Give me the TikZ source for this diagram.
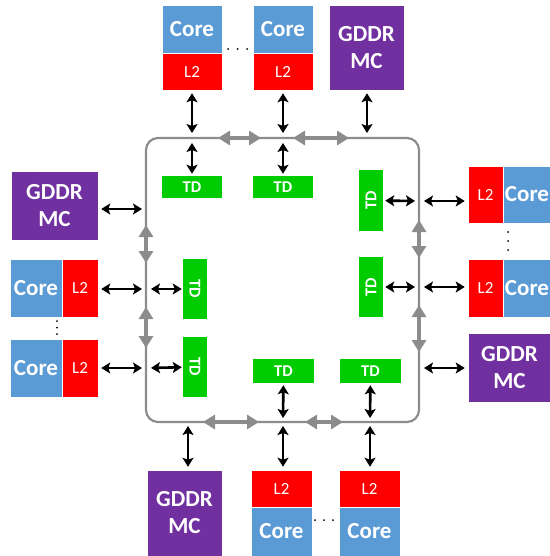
\documentclass[tikz,border=0pt]{standalone}
\usepackage{fontspec}
\setmainfont{Carlito}
\usetikzlibrary{arrows.meta}
\definecolor{coreblue}{HTML}{5B9BD5}
\definecolor{l2red}{HTML}{FF0000}
\definecolor{gddrpurple}{HTML}{7030A0}
\definecolor{tdgreen}{HTML}{00CC00}
\definecolor{ringgray}{HTML}{8C8C8C}
\tikzset{
  blk/.style={draw=white, line width=0.5pt, inner sep=0pt, text=white},
  corebox/.style={blk, fill=coreblue, font=\bfseries\fontsize{23}{26}\selectfont},
  l2box/.style={blk, fill=l2red, font=\fontsize{17}{20}\selectfont},
  gddrbox/.style={blk, fill=gddrpurple, align=center, font=\bfseries\fontsize{23}{27}\selectfont},
  tdbox/.style={blk, draw=none, fill=tdgreen, font=\bfseries\fontsize{16.5}{19}\selectfont},
  barrow/.style={line width=2.6pt, {Stealth[length=9pt,width=11pt,inset=2pt]}-{Stealth[length=9pt,width=11pt,inset=2pt]}},
  garrow/.style={line width=3.8pt, ringgray, {Triangle[length=12pt,width=14pt]}-{Triangle[length=12pt,width=14pt]}},
  ring/.style={draw=ringgray, line width=2.2pt, rounded corners=12pt},
  dotf/.style={fill=black}
}
\begin{document}
\begin{tikzpicture}[x=1pt,y=-1pt]
\useasboundingbox (0,0) rectangle (549,556);
% ring
\draw[ring] (146,138) rectangle (419,422);
% ---- top ----
\node[corebox, minimum width=60, minimum height=48] (cT1) at (192,29) {Core};
\node[l2box, minimum width=60, minimum height=37] (lT1) at (192,71.5) {L2};
\node[corebox, minimum width=60, minimum height=48] (cT2) at (283,29) {Core};
\node[l2box, minimum width=60, minimum height=37] (lT2) at (283,71.5) {L2};
\node[gddrbox, minimum width=75, minimum height=85] (gT) at (366.5,47.5) {GDDR\\MC};
\fill[dotf] (228,49) circle (1) (237.5,49) circle (1) (247,49) circle (1);
\node[tdbox, minimum width=60, minimum height=22] (tdT1) at (192,187) {TD};
\node[tdbox, minimum width=60, minimum height=22] (tdT2) at (283,187) {TD};
\coordinate (rT1) at (192,138);
\coordinate (rT2) at (283,138);
\coordinate (rT3) at (367,138);
\draw[barrow, shorten <=3pt, shorten >=5pt] (lT1) -- (rT1);
\draw[barrow, shorten <=3pt, shorten >=5pt] (lT2) -- (rT2);
\draw[barrow, shorten <=3pt, shorten >=5pt] (rT3 |- gT.south) -- (rT3);
\draw[barrow, shorten <=5pt, shorten >=2pt] (rT1) -- (tdT1);
\draw[barrow, shorten <=5pt, shorten >=2pt] (rT2) -- (tdT2);
\coordinate (gT1a) at (218,138); \coordinate (gT1b) at (261,138);
\coordinate (gT2a) at (293,138); \coordinate (gT2b) at (349,138);
\draw[garrow] (gT1a) -- (gT1b);
\draw[garrow] (gT2a) -- (gT2b);
% ---- right ----
\node[tdbox, rotate=90, minimum width=61, minimum height=24] (tdR1) at (371,200.5) {TD};
\node[tdbox, rotate=90, minimum width=60, minimum height=24] (tdR2) at (371,287) {TD};
\node[l2box, minimum width=35, minimum height=57] (lR1) at (485.5,194.5) {L2};
\node[corebox, minimum width=48, minimum height=57] (cR1) at (527,194.5) {Core};
\node[l2box, minimum width=35, minimum height=58] (lR2) at (485.5,288) {L2};
\node[corebox, minimum width=48, minimum height=58] (cR2) at (527,288) {Core};
\node[gddrbox, minimum width=83, minimum height=69] (gR) at (509.5,367.5) {GDDR\\MC};
\fill[dotf] (508,232) circle (1) (508,241) circle (1) (508,250) circle (1);
\coordinate (rR1) at (419,201);
\coordinate (rR2) at (419,287);
\coordinate (rR3) at (419,368);
\draw[barrow, shorten <=2pt, shorten >=4pt] (tdR1) -- (rR1);
\draw[barrow, shorten <=2pt, shorten >=4pt] (tdR2) -- (rR2);
\draw[barrow, shorten <=5pt, shorten >=3pt] (rR1) -- (rR1 -| lR1.west);
\draw[barrow, shorten <=5pt, shorten >=3pt] (rR2) -- (rR2 -| lR2.west);
\draw[barrow, shorten <=5pt, shorten >=3pt] (rR3) -- (rR3 -| gR.west);
\coordinate (gR1a) at (419,220); \coordinate (gR1b) at (419,258);
\coordinate (gR2a) at (419,305); \coordinate (gR2b) at (419,352);
\draw[garrow] (gR1a) -- (gR1b);
\draw[garrow] (gR2a) -- (gR2b);
% ---- bottom ----
\node[tdbox, minimum width=61, minimum height=24] (tdB1) at (283.5,371) {TD};
\node[tdbox, minimum width=61, minimum height=24] (tdB2) at (370.5,371) {TD};
\node[gddrbox, minimum width=75, minimum height=86] (gB) at (184.5,513) {GDDR\\MC};
\node[l2box, minimum width=61, minimum height=37] (lB1) at (281.5,488.5) {L2};
\node[corebox, minimum width=61, minimum height=49] (cB1) at (281.5,531.5) {Core};
\node[l2box, minimum width=61, minimum height=37] (lB2) at (369.5,488.5) {L2};
\node[corebox, minimum width=61, minimum height=49] (cB2) at (369.5,531.5) {Core};
\fill[dotf] (315,520) circle (1) (324,520) circle (1) (333,520) circle (1);
\coordinate (rB0) at (188,422);
\coordinate (rB1) at (283,422);
\coordinate (rB2) at (370,422);
\draw[barrow, shorten <=2pt, shorten >=4pt] (tdB1) -- (rB1);
\draw[barrow, shorten <=2pt, shorten >=4pt] (tdB2) -- (rB2);
\draw[barrow, shorten <=4pt, shorten >=3pt] (rB0) -- (rB0 |- gB.north);
\draw[barrow, shorten <=4pt, shorten >=3pt] (rB1) -- (rB1 |- lB1.north);
\draw[barrow, shorten <=4pt, shorten >=3pt] (rB2) -- (rB2 |- lB2.north);
\coordinate (gB1a) at (203,422); \coordinate (gB1b) at (259,422);
\coordinate (gB2a) at (305,422); \coordinate (gB2b) at (343,422);
\draw[garrow] (gB1a) -- (gB1b);
\draw[garrow] (gB2a) -- (gB2b);
% ---- left ----
\node[gddrbox, minimum width=87, minimum height=69] (gL) at (54.5,205.5) {GDDR\\MC};
\node[corebox, minimum width=52, minimum height=58] (cL1) at (36,288) {Core};
\node[l2box, minimum width=36, minimum height=58] (lL1) at (80,288) {L2};
\node[corebox, minimum width=52, minimum height=58] (cL2) at (36,368) {Core};
\node[l2box, minimum width=36, minimum height=58] (lL2) at (80,368) {L2};
\fill[dotf] (57,321) circle (1) (57,327.5) circle (1) (57,334) circle (1);
\node[tdbox, rotate=-90, minimum width=60, minimum height=24] (tdL1) at (195,289) {TD};
\node[tdbox, rotate=-90, minimum width=60, minimum height=24] (tdL2) at (195,367) {TD};
\coordinate (rL0) at (146,209);
\coordinate (rL1) at (146,289);
\coordinate (rL2) at (146,368);
\draw[barrow, shorten <=3pt, shorten >=4pt] (rL0 -| gL.east) -- (rL0);
\draw[barrow, shorten <=3pt, shorten >=4pt] (rL1 -| lL1.east) -- (rL1);
\draw[barrow, shorten <=3pt, shorten >=4pt] (rL2 -| lL2.east) -- (rL2);
\draw[barrow, shorten <=5pt, shorten >=1pt] (rL1) -- (tdL1);
\draw[barrow, shorten <=5pt, shorten >=1pt] (rL2) -- (tdL2);
\coordinate (gL1a) at (146,225); \coordinate (gL1b) at (146,263);
\coordinate (gL2a) at (146,307); \coordinate (gL2b) at (146,348);
\draw[garrow] (gL1a) -- (gL1b);
\draw[garrow] (gL2a) -- (gL2b);
\end{tikzpicture}
\end{document}
